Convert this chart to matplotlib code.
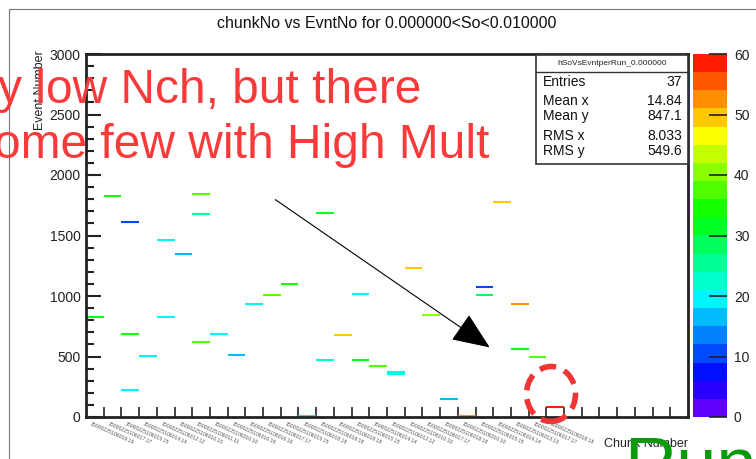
import colorsys
import matplotlib
matplotlib.use("Agg")
import matplotlib.pyplot as plt
from matplotlib.colors import ListedColormap, BoundaryNorm
from matplotlib.patches import Rectangle, Ellipse, FancyArrowPatch
import numpy as np

plt.rcParams['font.family'] = ['Liberation Sans', 'DejaVu Sans']

# entries of the 2D histogram: chunk bin, event number, bin content
chunk_bin = [0, 1, 2, 2, 2, 3, 4, 4, 5, 6, 6, 6, 7, 8, 9, 10, 11, 12, 13,
             13, 14, 15, 15, 16, 17, 17, 18, 19, 20, 21, 22, 22, 23, 24, 24, 25, 26]
event_no = [829, 1829, 1614, 688, 220, 501, 1463, 829, 1347, 1843, 1678, 620,
            688, 512, 937, 1005, 1102, 10, 1688, 468, 678, 1019, 468, 421,
            374, 353, 1229, 843, 149, 10, 1077, 1005, 1780, 936, 562, 493, 80]
content = [31, 35, 11, 35, 19, 18, 19, 18, 15, 37, 26, 36, 19, 17, 18, 37,
           33, 24, 32, 22, 50, 18, 31, 37, 22, 20, 50, 40, 15, 52, 9, 29,
           50, 52, 30, 37, 59]

chunk_labels = ["15000225106019.19", "15000225106017.17", "15000225106015.15",
                "15000225106014.14", "15000225106012.12", "15000225106010.10",
                "15000225106011.11", "15000225106010.10", "15000225106016.16",
                "15000225106016.16", "15000225106017.17", "15000225106015.15",
                "15000225106018.18", "15000225106018.18", "15000225106018.18",
                "15000225106015.15", "15000225106014.14", "15000225106012.12",
                "15000225106010.10", "15000225106017.17", "15000225106018.18",
                "15000225106010.10", "15000225106015.15", "15000225106014.14",
                "15000225106013.13", "15000225106017.17", "15000225106018.18"]
n_bins = 34

stats_names = ["Entries", "Mean x", "Mean y", "RMS x", "RMS y"]
stats_values = ["37", "14.84", "847.1", "8.033", "549.6"]

# ROOT-like rainbow palette, 20 levels between 0 and 60
levels = np.arange(0, 61, 3)
pal = [colorsys.hsv_to_rgb(0.75 * (1 - (v + 1.5) / 60), 1, 1) for v in levels[:-1]]
cmap = ListedColormap(pal)
norm = BoundaryNorm(levels, cmap.N)

W, H = 756, 459
fig = plt.figure(figsize=(W / 100, H / 100), dpi=100)

def fx(px):
    return px / W

def fy(py):
    return 1 - py / H

ax = fig.add_axes([fx(86), fy(417), fx(688) - fx(86), fy(54) - fy(417)])
cax = fig.add_axes([fx(693), fy(417), fx(727) - fx(693), fy(54) - fy(417)])

# pad frame (only top and left edges fall inside the picture)
fig.patches.append(Rectangle((fx(9), fy(470)), fx(780) - fx(9), fy(9) - fy(470),
                             transform=fig.transFigure, fill=False,
                             edgecolor='#777777', lw=0.8))

cols = [cmap(norm(c)) for c in content]
ax.hlines(event_no, chunk_bin, np.array(chunk_bin) + 1, colors=cols, lw=1.5)

ax.set_xlim(0, n_bins)
ax.set_ylim(0, 3000)
for s in ax.spines.values():
    s.set_linewidth(2)
    s.set_color('#222222')

ax.set_yticks(np.arange(0, 3001, 500))
ax.set_yticks(np.arange(0, 3001, 100), minor=True)
ax.tick_params(axis='y', which='major', direction='in', length=11, width=1.5,
               labelsize=10, pad=4, colors='#222222')
ax.tick_params(axis='y', which='minor', direction='in', length=6, width=1.5,
               colors='#222222')
ax.set_xticks(np.arange(1, n_bins))
ax.set_xticklabels([])
ax.tick_params(axis='x', which='major', direction='in', length=7, width=1.2,
               colors='#222222')

for i, lab in enumerate(chunk_labels):
    ax.text(i + 0.3, -40, lab, rotation=-24, rotation_mode='anchor',
            ha='left', va='top', fontsize=3.7, color='#555555', clip_on=False)

ax.text(1.0, -0.075, "Chunk Number", transform=ax.transAxes, ha='right',
        va='center', fontsize=9, color='#222222')
fig.text(fx(40), fy(50), "Event Number", rotation=90, ha='center', va='top',
         fontsize=9, color='#222222')

fig.text(fx(387), fy(24), "chunkNo vs EvntNo for 0.000000<So<0.010000",
         ha='center', va='center', fontsize=11.5, color='#111111')

# colour scale
cax.imshow(np.arange(0, 60, 3).reshape(-1, 1)[::-1] + 1.5, cmap=cmap, norm=norm,
           aspect='auto', extent=[0, 1, 0, 60])
cax.set_xticks([])
cax.yaxis.tick_right()
cax.set_yticks(np.arange(0, 61, 10))
cax.tick_params(axis='y', direction='in', length=13, width=1.2, labelsize=10,
                pad=5, colors='#222222')
for s in cax.spines.values():
    s.set_visible(False)

# stats box
fig.patches.append(Rectangle((fx(536), fy(164)), fx(688) - fx(536), fy(55) - fy(164),
                             transform=fig.transFigure, facecolor='white',
                             edgecolor='#333333', lw=1.2))
fig.lines.append(plt.Line2D([fx(536), fx(688)], [fy(72), fy(72)],
                            transform=fig.transFigure, color='#333333', lw=1))
fig.text(fx(612), fy(63.5), "hSoVsEvntperRun_0.000000", ha='center', va='center',
         fontsize=6, color='#222222')
for k, (nm, val) in enumerate(zip(stats_names, stats_values)):
    yy = [82, 101, 116, 136, 151][k]
    fig.text(fx(543), fy(yy), nm, ha='left', va='center', fontsize=10, color='#111111')
    fig.text(fx(682), fy(yy), val, ha='right', va='center', fontsize=10, color='#111111')

# annotations
fig.text(fx(-2), fy(103), "y low Nch, but there", ha='left', va='baseline',
         fontsize=34.5, color='#f83a3a')
fig.text(fx(-6), fy(158), "ome few with High Mult", ha='left', va='baseline',
         fontsize=34.5, color='#f83a3a')
fig.patches.append(FancyArrowPatch((fx(273), fy(198)), (fx(492), fy(349)),
                                   transform=fig.transFigure,
                                   arrowstyle='-|>,head_length=24,head_width=10',
                                   color='black', lw=0.8, mutation_scale=1))
fig.patches.append(Ellipse((fx(551), fy(394)), fx(49), 55 / H,
                           transform=fig.transFigure, fill=False,
                           edgecolor='#f03535', lw=4, linestyle=(0, (3, 1.6))))
fig.text(fx(624), fy(436), "Run", ha='left', va='top', fontsize=52,
         color='#0a9a0a')

fig.savefig("out.png", dpi=100)
